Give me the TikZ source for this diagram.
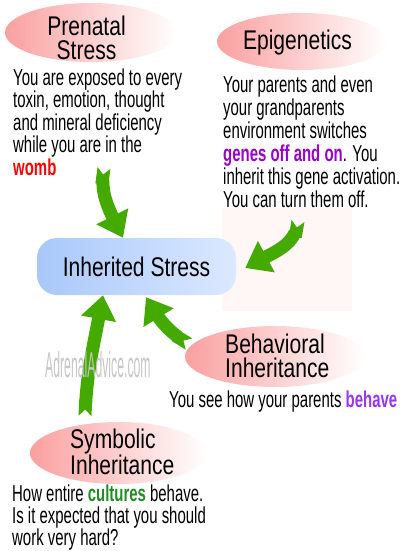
\documentclass[tikz,border=0pt]{standalone}
\usepackage{fontspec}
\setmainfont{Liberation Sans}
\newfontfamily\titlefont[FakeStretch=0.78]{Liberation Sans}
\newfontfamily\bodyfont[FakeStretch=0.65]{Liberation Sans}
\newfontfamily\markfont[FakeStretch=0.34]{Liberation Sans}
\usepackage{tikz}
\usetikzlibrary{shapes.geometric,arrows.meta,bending}
\definecolor{ellpink}{RGB}{250,160,160}
\definecolor{boxblue}{RGB}{168,200,250}
\definecolor{boxlight}{RGB}{220,233,255}
\definecolor{arrowgreen}{RGB}{68,170,0}
\definecolor{geneviolet}{RGB}{153,0,204}
\definecolor{behaveviolet}{RGB}{153,51,255}
\definecolor{culturegreen}{RGB}{34,139,34}
\definecolor{patchpink}{RGB}{255,246,246}

\begin{document}
\begin{tikzpicture}[x=1pt, y=1pt,
    bubble/.style={ellipse, inner sep=0pt, left color=ellpink, right color=white},
    headtext/.style={inner sep=0pt, align=left, font=\titlefont\fontsize{27}{24}\selectfont},
    blurb/.style={inner sep=0pt, anchor=north west, align=left,
                  font=\bodyfont\fontsize{23}{22.5}\selectfont},
    feed/.style={line width=13pt, draw=arrowgreen,
                 {Triangle Cap[reversed]}-{Triangle[width=34pt,length=24pt]}}]
  \useasboundingbox (0,0) rectangle (403,-551);
  % pale patch behind the epigenetics arrow
  \fill[patchpink] (222,-208) rectangle (352,-311);
  % centre box
  \node[rounded corners=20pt, minimum width=199pt, minimum height=57pt, inner sep=0pt,
        left color=boxblue, right color=boxlight,
        font=\titlefont\fontsize{27}{27}\selectfont] (inh) at (136.5,-266.5) {Inherited Stress};
  % bubbles
  \node[bubble, minimum width=172pt, minimum height=59pt] (prenatal) at (91,-32.5) {};
  \node[bubble, minimum width=170pt, minimum height=57pt] (epi) at (302,-41.5) {};
  \node[bubble, minimum width=180pt, minimum height=61pt] (behav) at (275,-356.5) {};
  \node[bubble, minimum width=177pt, minimum height=62pt] (symb) at (118.5,-453) {};
  % bubble titles
  \node[headtext, align=center, anchor=north] (prenatalT) at (86.5,-15.5) {Prenatal\\Stress};
  \node[headtext, anchor=base] (epiT) at (297.5,-50) {Epigenetics};
  \node[headtext, anchor=north west] (behavT) at (225,-333.5) {Behavioral\\Inheritance};
  \node[headtext, anchor=north west] (symbT) at (70,-428.5) {Symbolic\\Inheritance};
  % texts
  \node[blurb] (prenatalB) at (13,-68.5) {You are exposed to every\\toxin, emotion, thought\\and mineral deficiency\\while you are in the\\\textcolor{red}{\textbf{womb}}};
  \node[blurb, font=\bodyfont\fontsize{23}{22.9}\selectfont] (epiB) at (223,-76) {Your parents and even\\your grandparents\\environment switches\\\textcolor{geneviolet}{\textbf{genes off and on}}. You\\inherit this gene activation.\\You can turn them off.};
  \node[blurb] (behavB) at (169,-391) {You see how your parents \textcolor{behaveviolet}{\textbf{behave}}};
  \node[blurb, font=\bodyfont\fontsize{23}{21.8}\selectfont] (symbB) at (12,-485) {How entire \textcolor{culturegreen}{\textbf{cultures}} behave.\\Is it expected that you should\\work very hard?};
  % arrows into the box
  \coordinate (prenatalTail) at (104,-168);
  \coordinate (epiTail) at (298,-221);
  \coordinate (behavTail) at (189,-344);
  \coordinate (symbTail) at (85,-416);
  \draw[feed] (prenatalTail) to[out=-100, in=116] ([xshift=-13.5pt]inh.north);
  \draw[feed] (epiTail) to[out=-95, in=32] ([xshift=9pt,yshift=-1.5pt]inh.east);
  \draw[feed] (behavTail) to[out=150, in=-61] ([xshift=9.5pt,yshift=-2pt]inh.south);
  \draw[feed] (symbTail) to[out=88, in=-100] ([xshift=-33.5pt]inh.south);
  % watermark
  \node[inner sep=0pt, anchor=base west, text=gray!45,
        font=\markfont\fontsize{36}{36}\selectfont] (mark) at (45,-377) {AdrenalAdvice.com};
\end{tikzpicture}
\end{document}
